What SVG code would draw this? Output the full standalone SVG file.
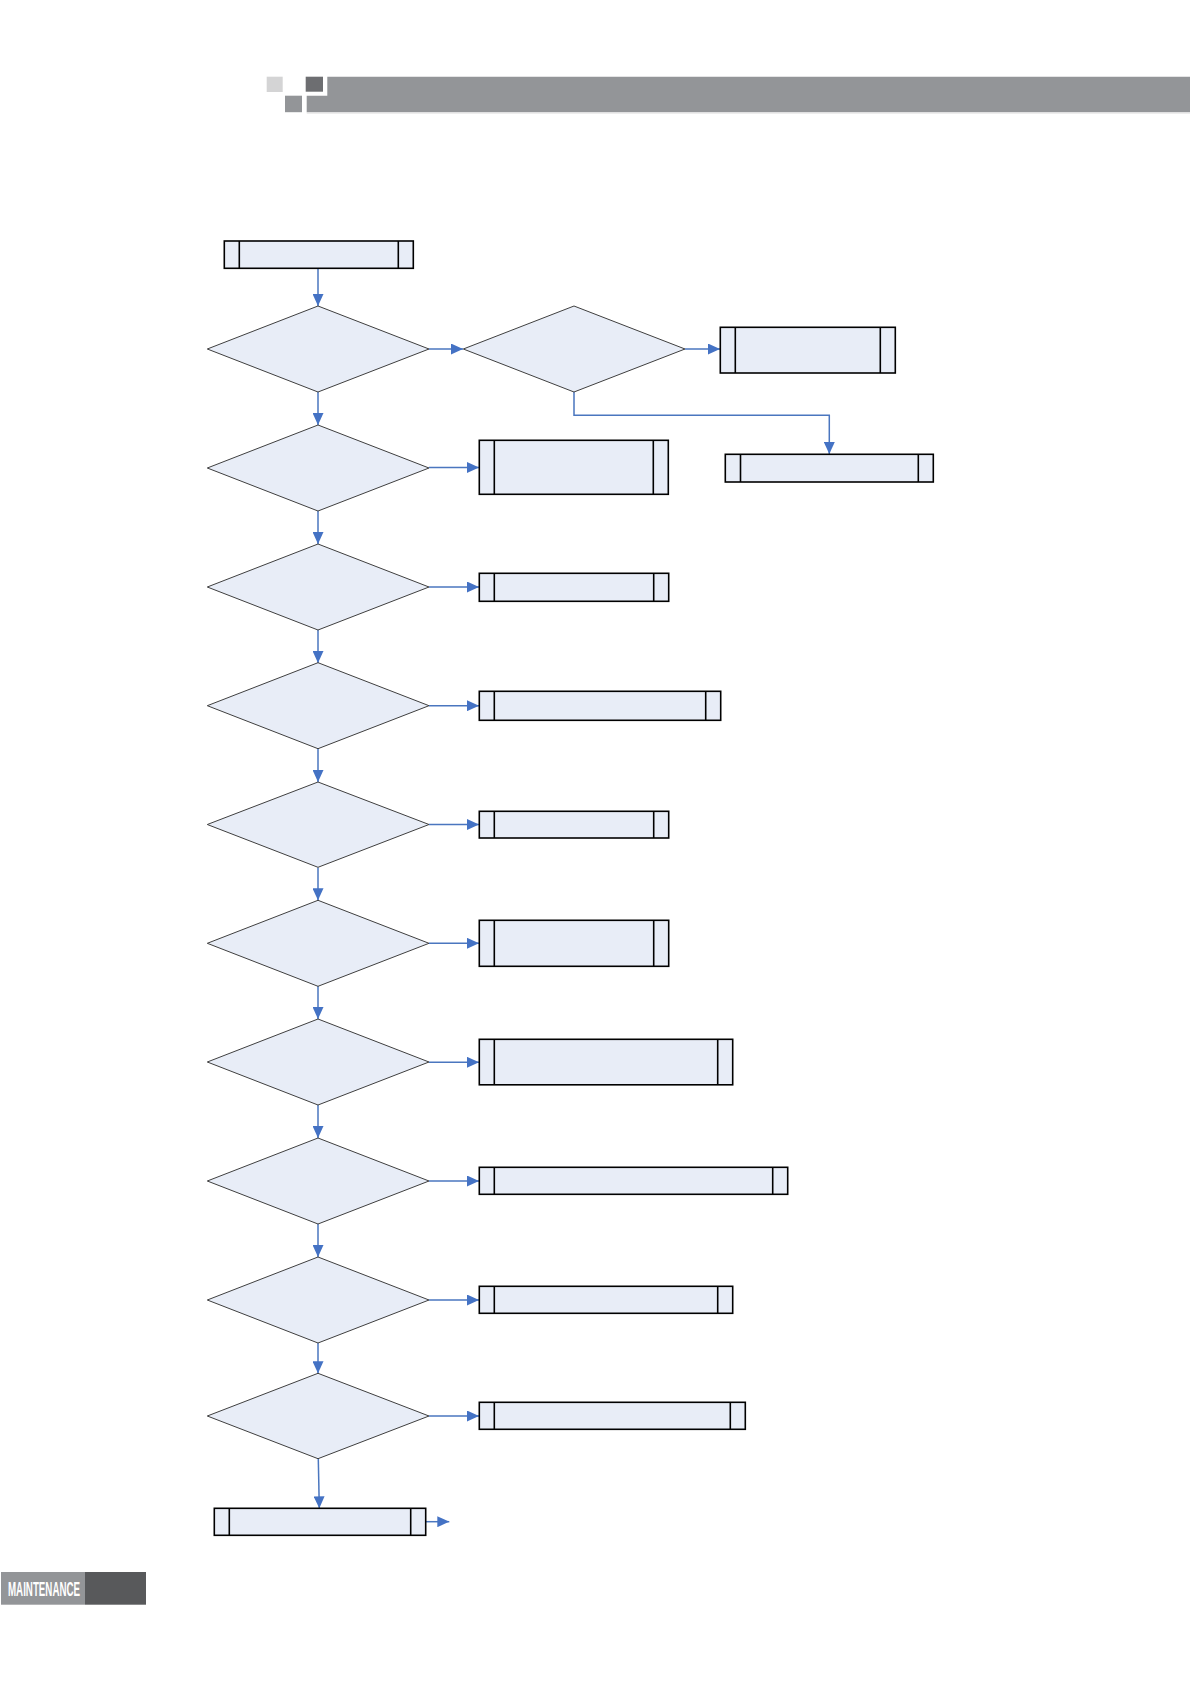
<svg xmlns="http://www.w3.org/2000/svg" width="1190" height="1684" viewBox="0 0 1190 1684">
<style>
.box{fill:#e8edf7;stroke:#000;stroke-width:1.6}
.bl{stroke:#000;stroke-width:1.6}
.dia{fill:#e8edf7;stroke:#3f3f3f;stroke-width:1}
.con{fill:none;stroke:#4a76bf;stroke-width:1.5}
.foot{font-family:"Liberation Sans",Arial,sans-serif;font-weight:bold;font-size:21px;fill:#fff}
</style>
<defs>
<marker id="ah" markerUnits="userSpaceOnUse" markerWidth="12" markerHeight="11" refX="12" refY="5.5" orient="auto">
<path d="M0,0 L12,5.5 L0,11 z" fill="#4472c4"/>
</marker>
</defs>
<rect width="1190" height="1684" fill="#fff"/>
<g id="header">
<rect x="266.7" y="76.7" width="16" height="15.3" fill="#d4d4d5"/>
<rect x="305.7" y="76.7" width="17.3" height="15" fill="#6d6e71"/>
<rect x="285" y="95.7" width="17" height="16.5" fill="#939598"/>
<path d="M327.3,76.7 H1190 V112.3 H306.7 V95.7 H327.3 Z" fill="#939598"/>
<line x1="306.7" y1="113" x2="1190" y2="113" stroke="#dcdcdc" stroke-width="1"/>
</g>
<g id="connectors">
<line class="con" x1="318" y1="268" x2="318" y2="306" marker-end="url(#ah)"/>
<line class="con" x1="429" y1="349" x2="463" y2="349" marker-end="url(#ah)"/>
<line class="con" x1="685" y1="349" x2="720" y2="349" marker-end="url(#ah)"/>
<polyline class="con" points="574,392 574,415.3 829.3,415.3 829.3,454" marker-end="url(#ah)"/>
<line class="con" x1="318" y1="392" x2="318" y2="425" marker-end="url(#ah)"/>
<line class="con" x1="429" y1="467.5" x2="479" y2="467.5" marker-end="url(#ah)"/>
<line class="con" x1="318" y1="511" x2="318" y2="544" marker-end="url(#ah)"/>
<line class="con" x1="429" y1="587" x2="479" y2="587" marker-end="url(#ah)"/>
<line class="con" x1="318" y1="630" x2="318" y2="663" marker-end="url(#ah)"/>
<line class="con" x1="429" y1="705.7" x2="479" y2="705.7" marker-end="url(#ah)"/>
<line class="con" x1="318" y1="749" x2="318" y2="782" marker-end="url(#ah)"/>
<line class="con" x1="429" y1="824.5" x2="479" y2="824.5" marker-end="url(#ah)"/>
<line class="con" x1="318" y1="867.5" x2="318" y2="900.3" marker-end="url(#ah)"/>
<line class="con" x1="429" y1="943.3" x2="479" y2="943.3" marker-end="url(#ah)"/>
<line class="con" x1="318" y1="986" x2="318" y2="1019" marker-end="url(#ah)"/>
<line class="con" x1="429" y1="1062.3" x2="479" y2="1062.3" marker-end="url(#ah)"/>
<line class="con" x1="318" y1="1105" x2="318" y2="1138" marker-end="url(#ah)"/>
<line class="con" x1="429" y1="1181" x2="479" y2="1181" marker-end="url(#ah)"/>
<line class="con" x1="318" y1="1224" x2="318" y2="1257" marker-end="url(#ah)"/>
<line class="con" x1="429" y1="1300" x2="479" y2="1300" marker-end="url(#ah)"/>
<line class="con" x1="318" y1="1343" x2="318" y2="1373.3" marker-end="url(#ah)"/>
<line class="con" x1="429" y1="1416" x2="479" y2="1416" marker-end="url(#ah)"/>
<line class="con" x1="318.3" y1="1459" x2="319.3" y2="1508.3" marker-end="url(#ah)"/>
<line class="con" x1="425.7" y1="1521.7" x2="449.3" y2="1521.7" marker-end="url(#ah)"/>
</g>
<g id="start"><rect class="box" x="224.3" y="241" width="189" height="27.3"/><line class="bl" x1="239.3" y1="241" x2="239.3" y2="268.3"/><line class="bl" x1="398.3" y1="241" x2="398.3" y2="268.3"/></g>
<g id="d1"><polygon class="dia" points="318,306 429,349 318,392 207.3,349"/></g>
<g id="d1b"><polygon class="dia" points="574,306 685,349 574,392 463.3,349"/></g>
<g id="b1a"><rect class="box" x="720.3" y="327.3" width="175" height="45.7"/><line class="bl" x1="735.3" y1="327.3" x2="735.3" y2="373"/><line class="bl" x1="880.3" y1="327.3" x2="880.3" y2="373"/></g>
<g id="b1b"><rect class="box" x="725.3" y="454.3" width="208" height="27.7"/><line class="bl" x1="740.5" y1="454.3" x2="740.5" y2="482"/><line class="bl" x1="918.3" y1="454.3" x2="918.3" y2="482"/></g>
<g id="d2"><polygon class="dia" points="318,425 429,468 318,511 207.3,468"/></g>
<g id="b2"><rect class="box" x="479.3" y="440.3" width="189" height="54"/><line class="bl" x1="494.3" y1="440.3" x2="494.3" y2="494.3"/><line class="bl" x1="653.3" y1="440.3" x2="653.3" y2="494.3"/></g>
<g id="d3"><polygon class="dia" points="318,544 429,587 318,630 207.3,587"/></g>
<g id="b3"><rect class="box" x="479.3" y="573.3" width="189.4" height="28"/><line class="bl" x1="494.3" y1="573.3" x2="494.3" y2="601.3"/><line class="bl" x1="653.7" y1="573.3" x2="653.7" y2="601.3"/></g>
<g id="d4"><polygon class="dia" points="318,662.7 429,705.7 318,748.7 207.3,705.7"/></g>
<g id="b4"><rect class="box" x="479.3" y="691.3" width="241.4" height="29"/><line class="bl" x1="494.3" y1="691.3" x2="494.3" y2="720.3"/><line class="bl" x1="705.7" y1="691.3" x2="705.7" y2="720.3"/></g>
<g id="d5"><polygon class="dia" points="318,782 429,824.5 318,867.3 207.3,824.5"/></g>
<g id="b5"><rect class="box" x="479.3" y="811.3" width="189.4" height="26.7"/><line class="bl" x1="494.3" y1="811.3" x2="494.3" y2="838"/><line class="bl" x1="653.7" y1="811.3" x2="653.7" y2="838"/></g>
<g id="d6"><polygon class="dia" points="318,900.3 429,943.3 318,986.3 207.3,943.3"/></g>
<g id="b6"><rect class="box" x="479.3" y="920.3" width="189.4" height="46"/><line class="bl" x1="494.3" y1="920.3" x2="494.3" y2="966.3"/><line class="bl" x1="653.7" y1="920.3" x2="653.7" y2="966.3"/></g>
<g id="d7"><polygon class="dia" points="318,1019 429,1062 318,1105 207.3,1062"/></g>
<g id="b7"><rect class="box" x="479.3" y="1039.3" width="253.4" height="45.5"/><line class="bl" x1="494.3" y1="1039.3" x2="494.3" y2="1084.8"/><line class="bl" x1="717.7" y1="1039.3" x2="717.7" y2="1084.8"/></g>
<g id="d8"><polygon class="dia" points="318,1138 429,1181 318,1224 207.3,1181"/></g>
<g id="b8"><rect class="box" x="479.3" y="1167.3" width="308.4" height="27"/><line class="bl" x1="494.3" y1="1167.3" x2="494.3" y2="1194.3"/><line class="bl" x1="772.7" y1="1167.3" x2="772.7" y2="1194.3"/></g>
<g id="d9"><polygon class="dia" points="318,1257 429,1300 318,1343 207.3,1300"/></g>
<g id="b9"><rect class="box" x="479.3" y="1286.3" width="253.4" height="27"/><line class="bl" x1="494.3" y1="1286.3" x2="494.3" y2="1313.3"/><line class="bl" x1="717.7" y1="1286.3" x2="717.7" y2="1313.3"/></g>
<g id="d10"><polygon class="dia" points="318,1373.3 429,1416 318,1458.7 207.3,1416"/></g>
<g id="b10"><rect class="box" x="479.3" y="1402.3" width="266" height="27"/><line class="bl" x1="494.3" y1="1402.3" x2="494.3" y2="1429.3"/><line class="bl" x1="730.3" y1="1402.3" x2="730.3" y2="1429.3"/></g>
<g id="end"><rect class="box" x="214.3" y="1508.3" width="211.4" height="27"/><line class="bl" x1="229.3" y1="1508.3" x2="229.3" y2="1535.3"/><line class="bl" x1="410.7" y1="1508.3" x2="410.7" y2="1535.3"/></g>
<g id="footer">
<rect x="1" y="1572" width="84" height="32.7" fill="#939598"/>
<rect x="85" y="1572" width="61" height="32.7" fill="#58595b"/>
<text class="foot" x="8" y="1596" textLength="72" lengthAdjust="spacingAndGlyphs">MAINTENANCE</text>
</g>
</svg>
